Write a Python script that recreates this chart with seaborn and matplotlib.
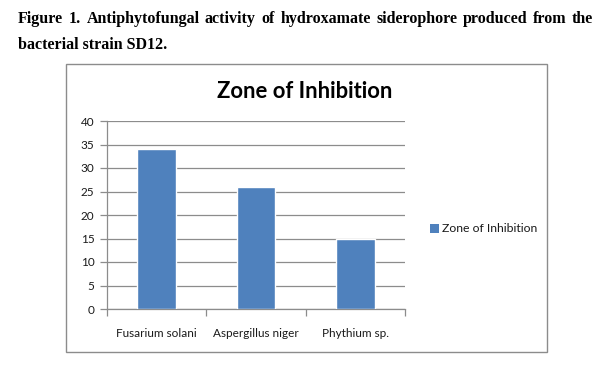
import matplotlib
matplotlib.use("Agg")
import matplotlib.pyplot as plt
from matplotlib.patches import Rectangle, Patch
import seaborn as sns
import pandas as pd

categories = ["Fusarium solani", "Aspergillus niger", "Phythium sp."]
values = [34, 26, 15]
series_name = "Zone of Inhibition"
yticks = [0, 5, 10, 15, 20, 25, 30, 35, 40]
caption1 = "Figure 1. Antiphytofungal activity of hydroxamate siderophore produced from the"
caption2 = "bacterial strain SD12."

sns.set_theme(style="white")
plt.rcParams['font.family'] = ['Lato', 'DejaVu Sans']

W, H = 602, 378
fig = plt.figure(figsize=(W / 100, H / 100), dpi=100)

def fx(px):
    return px / W

def fy(py):
    return 1 - py / H

cap_kw = dict(family=['Liberation Serif'], weight='bold', fontsize=11.5,
              va='baseline', ha='left', color='black')

# caption line 1, justified between x=18 and x=593
renderer = fig.canvas.get_renderer()
words = caption1.split(" ")
txts = [fig.text(0, fy(23), w, **cap_kw) for w in words]
widths = [t.get_window_extent(renderer).width for t in txts]
left_px, right_px = 18, 593
gap = (right_px - left_px - sum(widths)) / (len(words) - 1)
x = left_px
for t, w in zip(txts, widths):
    t.set_x(fx(x))
    x += w + gap

fig.text(fx(18), fy(49), caption2, **cap_kw)

# chart border
fig.patches.append(Rectangle((fx(66), fy(352)), fx(547) - fx(66), fy(64) - fy(352),
                             transform=fig.transFigure, fill=False,
                             edgecolor='#8c8c8c', linewidth=1.0))

ax = fig.add_axes([fx(107), fy(309), fx(405) - fx(107), fy(121) - fy(309)])
df = pd.DataFrame({"category": categories, "value": values})
sns.barplot(data=df, x="category", y="value", color="#4F81BD", width=0.39,
            saturation=1, ax=ax, zorder=3)

ax.set_ylim(0, 40)
ax.set_xlim(-0.5, 2.5)
ax.set_yticks(yticks)
ax.set_xlabel("")
ax.set_ylabel("")
ax.grid(axis='y', color='#8c8c8c', linewidth=0.9, zorder=0)
ax.set_axisbelow(True)
for s in ['top', 'right']:
    ax.spines[s].set_visible(False)
for s in ['left', 'bottom']:
    ax.spines[s].set_color('#8c8c8c')
    ax.spines[s].set_linewidth(0.9)

ax.tick_params(axis='y', which='major', length=5, width=0.9, color='#8c8c8c',
               labelsize=8.5, labelcolor='#1a1a1a', pad=4, left=True)
ax.tick_params(axis='x', which='major', length=0, labelsize=8.5,
               labelcolor='#1a1a1a', pad=14)
ax.set_xticks([-0.5, 0.5, 1.5, 2.5], minor=True)
ax.tick_params(axis='x', which='minor', length=5, width=0.9, color='#8c8c8c',
               bottom=True)

fig.text(fx(305), fy(91), series_name, fontsize=15.8, weight='bold',
         ha='center', va='center', color='black')

fig.legend(handles=[Patch(facecolor="#4F81BD", edgecolor='none', label=series_name)],
           loc='center left', bbox_to_anchor=(fx(424), fy(229)), frameon=False,
           fontsize=8.8, handlelength=0.7, handleheight=0.7, handletextpad=0.3,
           borderpad=0, labelcolor='#1a1a1a')

fig.savefig("out.png", dpi=100)
